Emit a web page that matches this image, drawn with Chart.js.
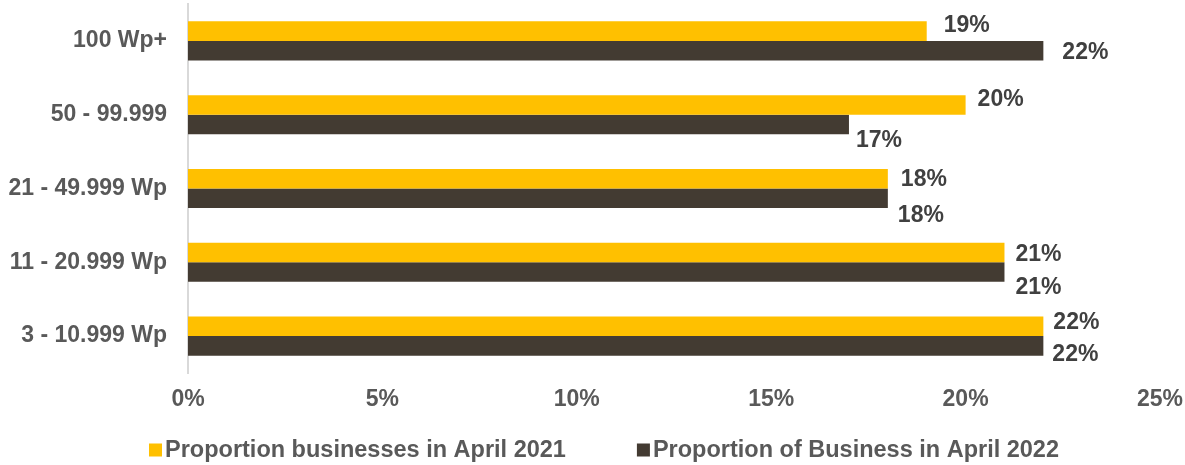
<!DOCTYPE html>
<html>
<head>
<meta charset="utf-8">
<script src="https://cdn.jsdelivr.net/npm/chart.js@4"></script>
<style>
  html, body { margin: 0; padding: 0; background: #ffffff; }
  #wrap { width: 1185px; height: 465px; position: relative; }
</style>
</head>
<body>
<div id="wrap"><canvas id="c" width="1185" height="465"></canvas></div>
<script>
// Capacity bands, top to bottom
const categories = ['100 Wp+', '50 - 99.999', '21 - 49.999 Wp', '11 - 20.999 Wp', '3 - 10.999 Wp'];
// Share of businesses (%) per band
const april2021 = [19, 20, 18, 21, 22];
const april2022 = [22, 17, 18, 21, 22];
const seriesNames = ['Proportion businesses in April 2021', 'Proportion of Business in April 2022'];
const xTicks = [0, 5, 10, 15, 20, 25];

const FONT = '"Liberation Sans", Arial, sans-serif';
const TICK_COLOR = '#595959';
const LABEL_COLOR = '#404040';

// Value labels at the end of each bar, nudged so neighbours don't collide
const barValueLabels = {
  id: 'barValueLabels',
  afterDatasetsDraw(chart, args, opts) {
    const ctx = chart.ctx;
    ctx.save();
    ctx.font = 'bold 23px ' + FONT;
    ctx.fillStyle = LABEL_COLOR;
    ctx.textAlign = 'left';
    ctx.textBaseline = 'middle';
    chart.data.datasets.forEach((ds, di) => {
      const meta = chart.getDatasetMeta(di);
      meta.data.forEach((el, i) => {
        const dx = opts.dx[di][i];
        const dy = opts.dy[di][i];
        ctx.fillText(ds.data[i] + '%', el.x + dx, el.y + dy);
      });
    });
    ctx.restore();
  }
};

// Square-marker legend drawn below the axis
const bottomLegend = {
  id: 'bottomLegend',
  afterDraw(chart, args, opts) {
    const ctx = chart.ctx;
    ctx.save();
    ctx.font = 'bold 23.5px ' + FONT;
    ctx.textBaseline = 'middle';
    ctx.textAlign = 'left';
    const items = chart.data.datasets.map(ds => ({
      text: ds.label,
      color: ds.backgroundColor,
      w: opts.box + opts.boxGap + ctx.measureText(ds.label).width
    }));
    const total = items.reduce((s, it) => s + it.w, 0) + opts.itemGap * (items.length - 1);
    let x = opts.centerX - total / 2;
    const y = opts.y;
    items.forEach(it => {
      ctx.fillStyle = it.color;
      ctx.fillRect(x, y - opts.box / 2, opts.box, opts.box);
      ctx.fillStyle = TICK_COLOR;
      ctx.fillText(it.text, x + opts.box + opts.boxGap, y + 1);
      x += it.w + opts.itemGap;
    });
    ctx.restore();
  }
};

new Chart(document.getElementById('c'), {
  type: 'bar',
  data: {
    labels: categories,
    datasets: [
      { label: seriesNames[0], data: april2021, backgroundColor: '#FFC000' },
      { label: seriesNames[1], data: april2022, backgroundColor: '#433B32' }
    ]
  },
  options: {
    indexAxis: 'y',
    responsive: false,
    animation: false,
    events: [],
    layout: { padding: { top: 4, right: 25, left: 0, bottom: 0 } },
    datasets: { bar: { categoryPercentage: 0.53, barPercentage: 1.0 } },
    scales: {
      x: {
        min: 0,
        max: 25,
        afterBuildTicks(scale) { scale.ticks = xTicks.map(v => ({ value: v })); },
        afterFit(scale) {
          scale.height = 92;
          scale.paddingLeft = 0;
          scale.paddingRight = 0;
        },
        grid: { display: false, drawTicks: false },
        border: { display: false },
        ticks: {
          padding: 13,
          color: TICK_COLOR,
          font: { family: FONT, size: 23, weight: 'bold' },
          callback: v => v + '%'
        }
      },
      y: {
        afterFit(scale) {
          scale.width = 188;
          scale.paddingTop = 0;
          scale.paddingBottom = 0;
        },
        grid: { display: false, drawTicks: false },
        border: { display: true, color: '#D9D9D9', width: 2 },
        ticks: {
          padding: 21,
          color: TICK_COLOR,
          font: { family: FONT, size: 23, weight: 'bold' }
        }
      }
    },
    plugins: {
      legend: { display: false },
      tooltip: { enabled: false },
      barValueLabels: {
        dx: [[17, 12, 13, 11, 10], [19, 7, 10, 11, 9]],
        dy: [[-5, -5, 1, 2, -4], [2, 16, 17, 16, 9]]
      },
      bottomLegend: { centerX: 604, y: 450, box: 13, boxGap: 3, itemGap: 71 }
    }
  },
  plugins: [barValueLabels, bottomLegend]
});
</script>
</body>
</html>
